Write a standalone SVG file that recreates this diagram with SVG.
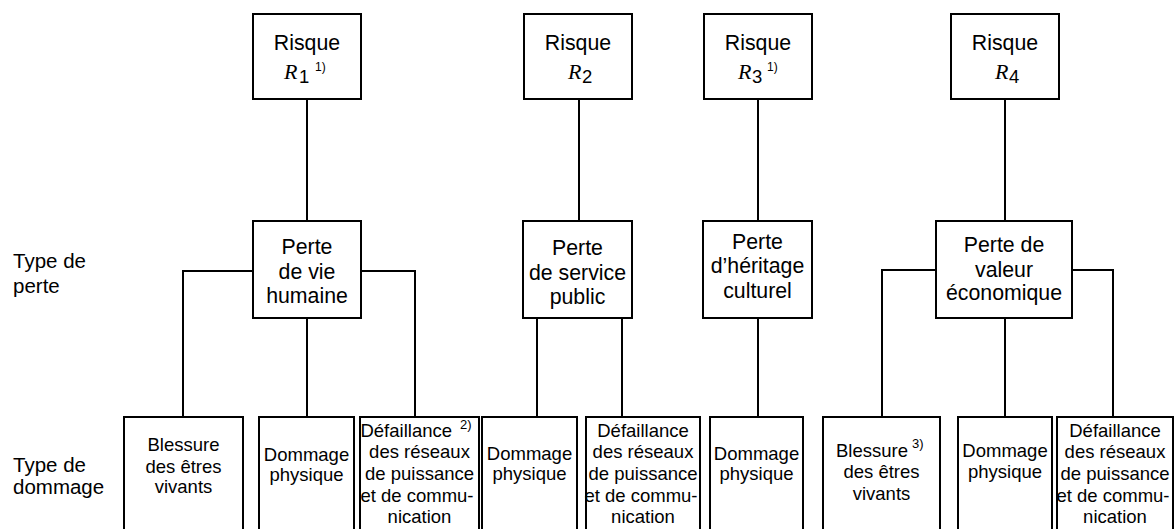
<svg xmlns="http://www.w3.org/2000/svg" width="1174" height="529" viewBox="0 0 1174 529">
<style>
.box{fill:#fff;stroke:#000;stroke-width:2}
.ln{fill:none;stroke:#000;stroke-width:2}
text{font-family:"Liberation Sans",Arial,sans-serif;fill:#000}
.t{font-size:21.3px;text-anchor:middle}
.b{font-size:18.5px;text-anchor:middle}
.lab{font-size:20.5px}
.r{font-family:"Liberation Serif","Times New Roman",serif;font-style:italic;font-size:22px}
.sub{font-size:18.5px}
.sup{font-size:12px}
.sup2{font-size:13px}
</style>
<rect width="1174" height="529" fill="#fff"/>
<g id="connectors">
<path class="ln" d="M307 99V221M579 99V221M758 99V221M1005 99V221"/>
<path class="ln" d="M253 271H183V417M307 318V417M361 271H415V417"/>
<path class="ln" d="M537 318V417M622 318V417"/>
<path class="ln" d="M758 318V417"/>
<path class="ln" d="M936 270H882V417M1005 318V417M1072 270H1113V417"/>
</g>
<g id="labels">
<text class="lab" x="13" y="268">Type de</text>
<text class="lab" x="13" y="293">perte</text>
<text class="lab" x="13" y="472">Type de</text>
<text class="lab" x="13" y="494">dommage</text>
</g>
<g id="risk1">
<rect class="box" x="253" y="14" width="108" height="85"/>
<text class="t" x="307" y="50">Risque</text>
<text class="r" x="284" y="79">R</text><text class="sub" x="299" y="83">1</text><text class="sup" x="315" y="71">1)</text>
</g>
<g id="risk2">
<rect class="box" x="524" y="14" width="108" height="85"/>
<text class="t" x="578" y="50">Risque</text>
<text class="r" x="568" y="79">R</text><text class="sub" x="582" y="83">2</text>
</g>
<g id="risk3">
<rect class="box" x="704" y="14" width="108" height="85"/>
<text class="t" x="758" y="50">Risque</text>
<text class="r" x="738" y="79">R</text><text class="sub" x="752" y="83">3</text><text class="sup" x="767" y="71">1)</text>
</g>
<g id="risk4">
<rect class="box" x="951" y="14" width="108" height="85"/>
<text class="t" x="1005" y="50">Risque</text>
<text class="r" x="995" y="79">R</text><text class="sub" x="1009" y="83">4</text>
</g>
<g id="loss-life">
<rect class="box" x="253" y="221" width="108" height="97"/>
<text class="t" x="307" y="254">Perte</text>
<text class="t" x="307" y="279">de vie</text>
<text class="t" x="307" y="303">humaine</text>
</g>
<g id="loss-service">
<rect class="box" x="523" y="221" width="109" height="97"/>
<text class="t" x="577.5" y="255">Perte</text>
<text class="t" x="577.5" y="280">de service</text>
<text class="t" x="577.5" y="304">public</text>
</g>
<g id="loss-heritage">
<rect class="box" x="703" y="221" width="109" height="97"/>
<text class="t" x="757.5" y="249">Perte</text>
<text class="t" x="757.5" y="273">d’héritage</text>
<text class="t" x="757.5" y="298">culturel</text>
</g>
<g id="loss-economic">
<rect class="box" x="936" y="221" width="136" height="97"/>
<text class="t" x="1004" y="252">Perte de</text>
<text class="t" x="1004" y="277">valeur</text>
<text class="t" x="1004" y="300">économique</text>
</g>
<g id="d1">
<rect class="box" x="124" y="417" width="119" height="130"/>
<text class="b" x="183.5" y="451">Blessure</text>
<text class="b" x="183.5" y="473">des êtres</text>
<text class="b" x="183.5" y="493">vivants</text>
</g>
<g id="d2">
<rect class="box" x="259" y="417" width="95" height="130"/>
<text class="b" x="306.5" y="461">Dommage</text>
<text class="b" x="306.5" y="481">physique</text>
</g>
<g id="d3">
<rect class="box" x="360" y="417" width="119" height="130"/>
<text class="b" x="452" y="437" style="text-anchor:end">Défaillance</text><text class="sup2" x="460" y="429">2)</text>
<text class="b" x="419.5" y="458">des réseaux</text>
<text class="b" x="419.5" y="480">de puissance</text>
<text class="b" x="417" y="502">et de commu-</text>
<text class="b" x="419.5" y="523">nication</text>
</g>
<g id="d4">
<rect class="box" x="482" y="417" width="95" height="130"/>
<text class="b" x="529.5" y="460">Dommage</text>
<text class="b" x="529.5" y="480">physique</text>
</g>
<g id="d5">
<rect class="box" x="586" y="417" width="114" height="130"/>
<text class="b" x="643" y="437">Défaillance</text>
<text class="b" x="643" y="458">des réseaux</text>
<text class="b" x="643" y="480">de puissance</text>
<text class="b" x="641" y="502">et de commu-</text>
<text class="b" x="643" y="523">nication</text>
</g>
<g id="d6">
<rect class="box" x="710" y="417" width="93" height="130"/>
<text class="b" x="756.5" y="460">Dommage</text>
<text class="b" x="756.5" y="480">physique</text>
</g>
<g id="d7">
<rect class="box" x="823" y="417" width="117" height="130"/>
<text class="b" x="908" y="457" style="text-anchor:end">Blessure</text><text class="sup2" x="912" y="448">3)</text>
<text class="b" x="881.5" y="478">des êtres</text>
<text class="b" x="881.5" y="500">vivants</text>
</g>
<g id="d8">
<rect class="box" x="958" y="417" width="94" height="130"/>
<text class="b" x="1005" y="457">Dommage</text>
<text class="b" x="1005" y="478">physique</text>
</g>
<g id="d9">
<rect class="box" x="1057" y="417" width="116" height="130"/>
<text class="b" x="1115" y="437">Défaillance</text>
<text class="b" x="1115" y="458">des réseaux</text>
<text class="b" x="1115" y="480">de puissance</text>
<text class="b" x="1113" y="502">et de commu-</text>
<text class="b" x="1115" y="523">nication</text>
</g>
</svg>
